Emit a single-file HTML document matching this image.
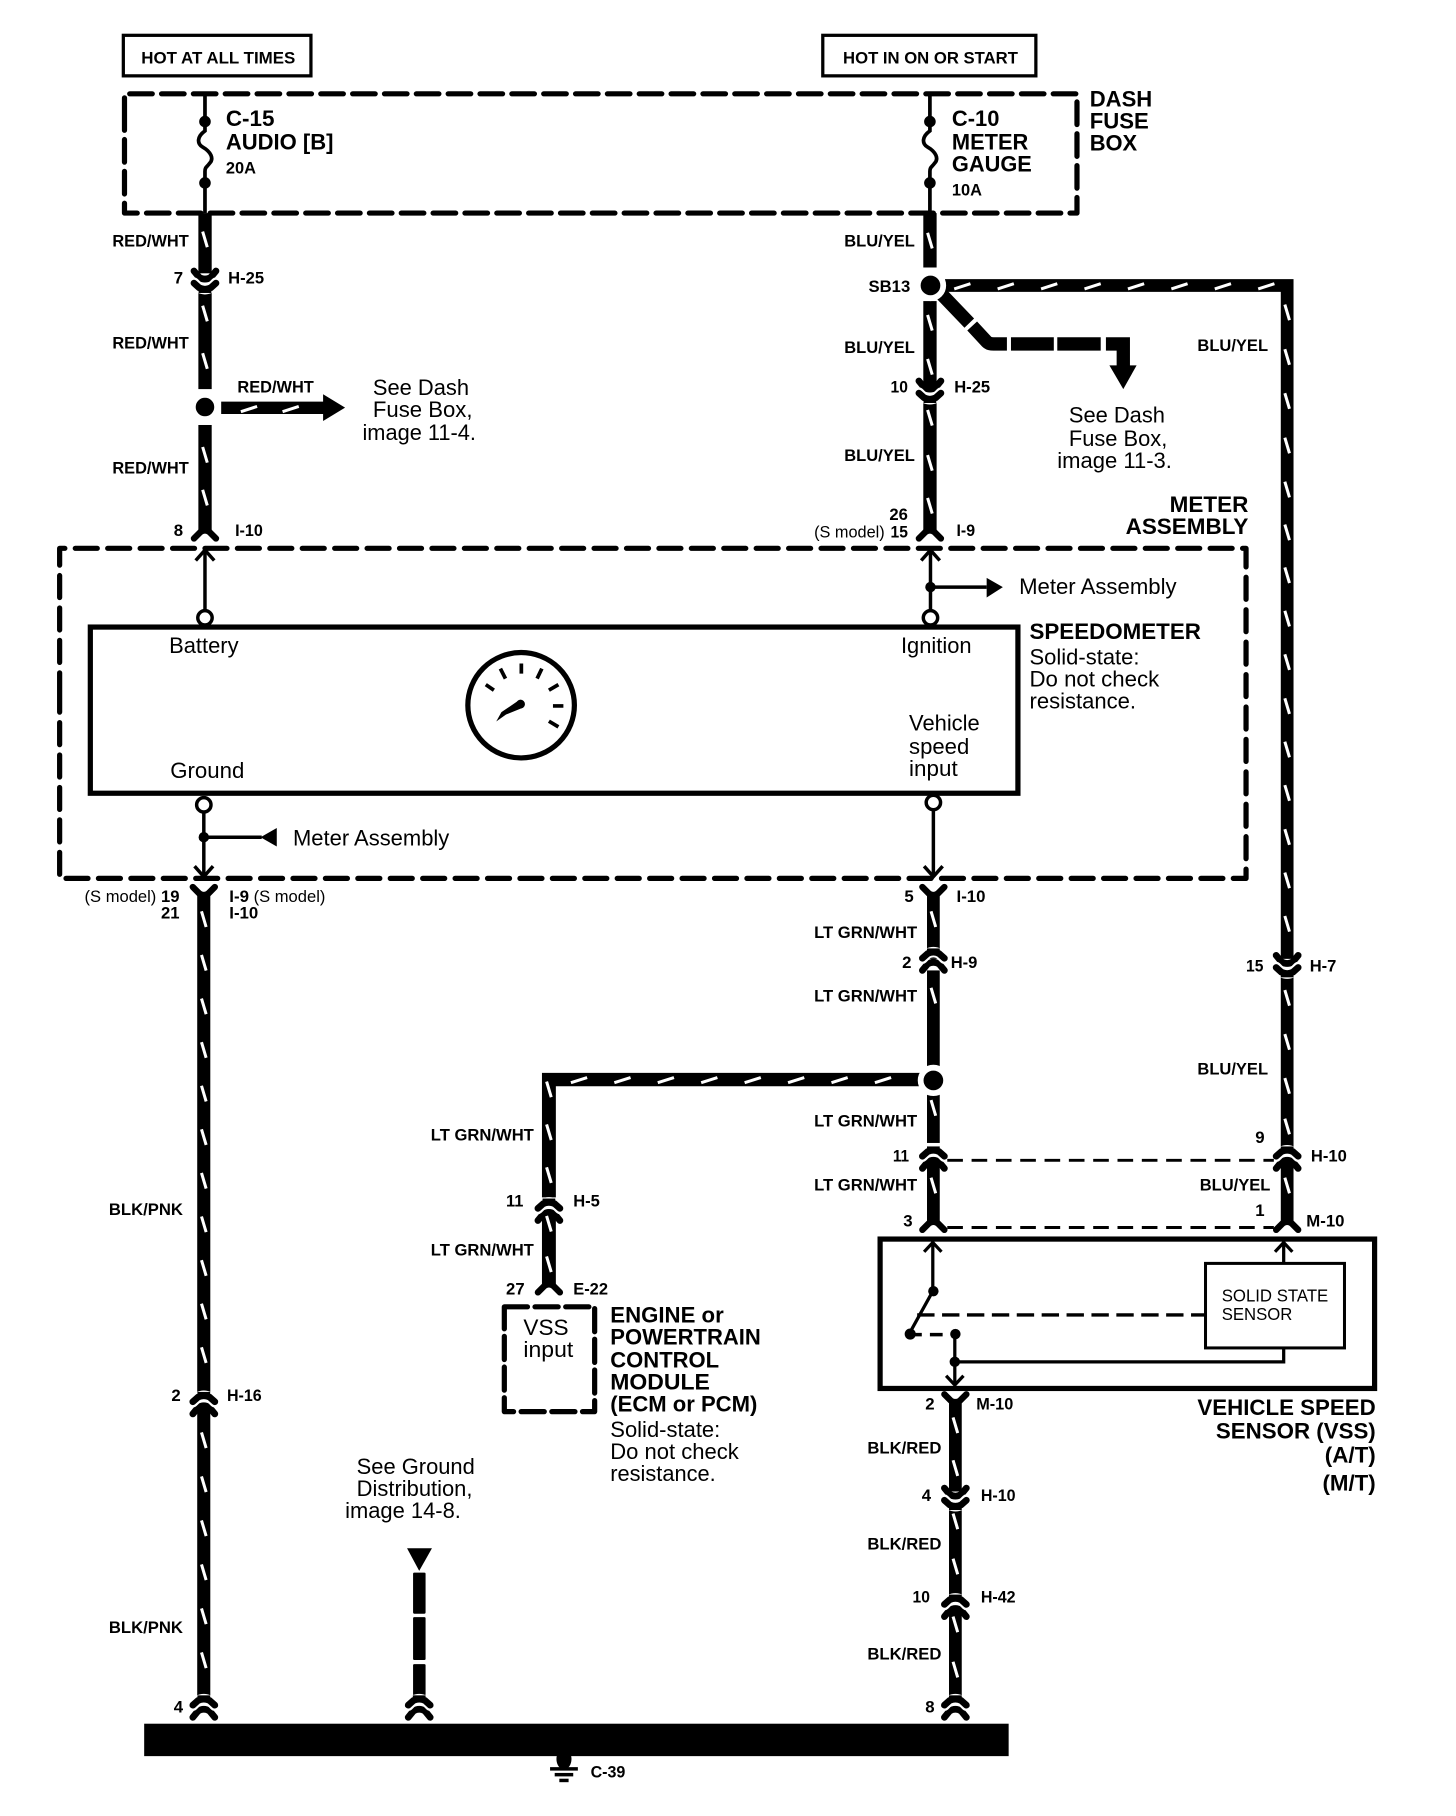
<!DOCTYPE html>
<html><head><meta charset="utf-8"><title>Speedometer circuit</title>
<style>
html,body{margin:0;padding:0;background:#fff}
svg{display:block}
text{fill:#000;font-family:"Liberation Sans",sans-serif}
.s{font-size:14.5px;font-weight:700}
.m{font-size:14.5px;font-weight:400}
.r{font-size:19px;font-weight:400}
.b{font-size:19px;font-weight:700}
.e{font-size:15px;font-weight:400}
</style></head><body>
<svg xmlns="http://www.w3.org/2000/svg" width="1456" height="1816" viewBox="0 0 1257.3 1568.2" preserveAspectRatio="none">
<defs>
<g id="vv" fill="none" stroke-linecap="round">
<path d="M-9.5,-7 L-5,-1.5 Q0,1.5 5,-1.5 L9.5,-7" stroke="#000" stroke-width="5.8"/>
<path d="M-9.5,3 L-5,7.5 Q0,10 5,7.5 L9.5,3" stroke="#fff" stroke-width="9"/>
<rect x="-5.5" y="6" width="11" height="6" fill="#000" stroke="none"/>
<path d="M-9.5,3.5 L-5,7.5 Q0,10 5,7.5 L9.5,3.5" stroke="#000" stroke-width="5.8"/>
</g>
<path id="fd" d="M-9.5,6 L-4,0.5 Q0,-2.5 4,0.5 L9.5,6" fill="none" stroke="#000" stroke-width="5.5" stroke-linecap="round"/>
<path id="fu" d="M-9.5,-6 L-4,-0.5 Q0,2.5 4,-0.5 L9.5,-6" fill="none" stroke="#000" stroke-width="5.5" stroke-linecap="round"/>
</defs>
<rect x="0" y="0" width="1257.3" height="1568.2" fill="#fff"/>

<!-- top boxes -->
<rect x="106.5" y="30.5" width="162" height="35" fill="none" stroke="#000" stroke-width="2.8"/>
<rect x="710.5" y="30.5" width="184" height="35" fill="none" stroke="#000" stroke-width="2.8"/>

<!-- dashed containers -->
<g fill="none" stroke="#000" stroke-width="4.5" stroke-linecap="round" stroke-linejoin="round">
<path d="M107.5,104 V81 H930 V184 H107.5 V104" stroke-dasharray="19.5 8"/>
<path d="M51.5,600 V473.5 H1076 V758.5 H51.5 V600" stroke-dasharray="19 9"/>
<path d="M435.5,1128.5 H513.5 V1219 H435.5 Z" stroke-dasharray="20 6.5"/>
</g>

<!-- fuses -->
<g fill="none" stroke="#000" stroke-width="3.2">
<path d="M177,81 V113 C170,118 170,124 175,127 C182,131 185,137 181,141 C179,144 177,144 177,148 V184"/>
<path d="M803,81 V113 C796,118 796,124 801,127 C808,131 811,137 807,141 C805,144 803,144 803,148 V184"/>
</g>
<g fill="#000">
<circle cx="177" cy="105" r="5"/><circle cx="177" cy="158" r="5"/>
<circle cx="803" cy="105" r="5"/><circle cx="803" cy="158" r="5"/>
</g>

<!-- thick wires -->
<g fill="#000">
<rect x="171.3" y="184" width="11.5" height="52"/>
<rect x="171.3" y="250" width="11.5" height="86"/>
<rect x="171.3" y="367" width="11.5" height="93"/>
<rect x="797.3" y="184" width="11.5" height="47"/>
<rect x="797.3" y="260" width="11.5" height="78"/>
<rect x="797.3" y="344" width="11.5" height="115"/>
<path d="M816,241 H1117 V828 H1106 V252 H816 Z"/>
<rect x="1106" y="840" width="11" height="150"/>
<rect x="1106" y="1000" width="11" height="57"/>
<path d="M191,346.8 H279 V340.5 L298,352 L279,363.5 V357.5 H191 Z"/>
<rect x="170.3" y="772" width="11.3" height="432"/>
<rect x="170.3" y="1214" width="11.3" height="250"/>
<rect x="800.5" y="772" width="11" height="56"/>
<rect x="800.5" y="838" width="11" height="85"/>
<rect x="800.5" y="945" width="11" height="42"/>
<rect x="800.5" y="1000" width="11" height="57"/>
<path d="M468,926.5 H795 V938 H480 V1034 H468 Z"/>
<rect x="468" y="1046" width="12" height="63"/>
<rect x="819.5" y="1208" width="11" height="80"/>
<rect x="819.5" y="1300" width="11" height="78"/>
<rect x="819.5" y="1390" width="11" height="75"/>
<path d="M351.5,1337 H373 L362,1356.5 Z"/>
<rect x="356.7" y="1358" width="10.8" height="35.5" rx="1"/>
<rect x="356.7" y="1396.5" width="10.8" height="37" rx="1"/>
<rect x="356.7" y="1437" width="10.8" height="27" rx="1"/>
<rect x="124.5" y="1488.5" width="746.5" height="28"/>
<ellipse cx="487" cy="1519" rx="6.5" ry="9"/>
<rect x="475" y="1526" width="24" height="3"/>
<rect x="479" y="1531" width="16" height="3"/>
<rect x="483" y="1536" width="8" height="3"/>
</g>

<!-- diagonal dashed branch -->
<g fill="none" stroke="#000" stroke-width="11.5">
<path d="M813,254 L837,279"/>
<path d="M839.5,281.5 L852,295 C854,297 856,297 858,297 H869.5"/>
<path d="M873,297 H910"/>
<path d="M913,297 H950.5"/>
<path d="M955,297 H970 V316"/>
</g>
<path d="M958,315.5 H981.5 L970,336 Z" fill="#000"/>

<!-- junction dots -->
<g fill="#000" stroke="#fff" stroke-width="5">
<circle cx="177" cy="351.5" r="10.5"/>
<circle cx="803.5" cy="246.5" r="11"/>
<circle cx="806" cy="933" r="11"/>
</g>

<!-- connectors -->
<use href="#vv" x="177" y="241"/>
<use href="#vv" x="803" y="336"/>
<use href="#vv" x="1111.5" y="832"/>
<use href="#vv" x="825" y="1292"/>
<g transform="translate(806,831) scale(1,-1)"><use href="#vv"/></g>
<g transform="translate(1111.5,1002) scale(1,-1)"><use href="#vv"/></g>
<g transform="translate(806,1002) scale(1,-1)"><use href="#vv"/></g>
<g transform="translate(474,1047) scale(1,-1)"><use href="#vv"/></g>
<g transform="translate(176,1214) scale(1,-1)"><use href="#vv"/></g>
<g transform="translate(825,1389) scale(1,-1)"><use href="#vv"/></g>
<g transform="translate(176,1476) scale(1,-1)"><use href="#vv"/></g>
<g transform="translate(362,1476) scale(1,-1)"><use href="#vv"/></g>
<g transform="translate(825,1476) scale(1,-1)"><use href="#vv"/></g>
<use href="#fd" x="177" y="459"/>
<use href="#fd" x="803" y="459"/>
<use href="#fd" x="806" y="1056"/>
<use href="#fd" x="1111.5" y="1056"/>
<use href="#fd" x="474" y="1110"/>
<use href="#fu" x="176" y="772"/>
<use href="#fu" x="806" y="772"/>
<use href="#fu" x="825" y="1210"/>

<!-- white ticks -->
<path fill="none" stroke="#fff" stroke-width="2.6" d="
M175,200l4,13.5 M175,264l4,13.5 M175,305l4,13.5 M175,386l4,13.5 M175,423l4,13.5
M801,201l4,13.5 M801,272l4,13.5 M801,310l4,13.5 M801,354l4,13.5 M801,393l4,13.5 M801,430l4,13.5
M1109.5,263l4,13.5 M1109.5,301.5l4,13.5 M1109.5,339.5l4,13.5 M1109.5,378l4,13.5 M1109.5,416l4,13.5 M1109.5,453l4,13.5 M1109.5,490l4,13.5 M1109.5,527.5l4,13.5 M1109.5,565l4,13.5 M1109.5,603l4,13.5 M1109.5,640.5l4,13.5 M1109.5,678l4,13.5 M1109.5,716l4,13.5 M1109.5,753.5l4,13.5 M1109.5,791l4,13.5 M1109.5,855l4,13.5 M1109.5,893l4,13.5 M1109.5,931l4,13.5 M1109.5,966l4,13.5 M1109.5,1017l4,13.5
M174,787l4,13.5 M174,824.6l4,13.5 M174,862.3l4,13.5 M174,900l4,13.5 M174,937.6l4,13.5 M174,975.2l4,13.5 M174,1012.9l4,13.5 M174,1050.5l4,13.5 M174,1088.2l4,13.5 M174,1125.8l4,13.5 M174,1163.5l4,13.5 M174,1237l4,13.5 M174,1275l4,13.5 M174,1313l4,13.5 M174,1351l4,13.5 M174,1389l4,13.5 M174,1427l4,13.5
M804,787l4,13.5 M804,853l4,13.5 M804,950l4,13.5 M804,1017l4,13.5
M472,934l4,13.5 M472,971l4,13.5 M472,1008l4,13.5 M472,1050l4,13.5 M472,1085l4,13.5
M823,1224l4,13.5 M823,1261l4,13.5 M823,1307l4,13.5 M823,1346l4,13.5 M823,1396l4,13.5 M823,1435l4,13.5
M208,355.5l14,-4.5 M244,355.5l14,-4.5
M824,249.5l14,-4.5 M861.5,249.5l14,-4.5 M899,249.5l14,-4.5 M936.5,249.5l14,-4.5 M974,249.5l14,-4.5 M1011.5,249.5l14,-4.5 M1049,249.5l14,-4.5 M1086.5,249.5l14,-4.5
M493,935l14,-4.5 M530.5,935l14,-4.5 M568,935l14,-4.5 M605.5,935l14,-4.5 M643,935l14,-4.5 M680.5,935l14,-4.5 M718,935l14,-4.5 M755.5,935l14,-4.5
"/>

<!-- speedometer -->
<rect x="78" y="541.5" width="801" height="143.5" fill="none" stroke="#000" stroke-width="4.5"/>
<g fill="none" stroke="#000">
<path stroke-width="3" d="M177,475 V527 M803.5,475 V527 M803.5,507 H852 M176,702 V757 M176,723 H226 M806,700 V757"/>
<path stroke-width="3" d="M169,484 L177,475 L185,484 M795.5,484 L803.5,475 L811.5,484 M168,748 L176,757 L184,748 M798,748 L806,757 L814,748"/>
<circle cx="177" cy="533.5" r="6.2" fill="#fff" stroke-width="3"/>
<circle cx="803.5" cy="533.5" r="6.2" fill="#fff" stroke-width="3"/>
<circle cx="176" cy="695" r="6.2" fill="#fff" stroke-width="3"/>
<circle cx="806" cy="693" r="6.2" fill="#fff" stroke-width="3"/>
<ellipse cx="450" cy="609" rx="46" ry="45.5" stroke-width="4.5" fill="#fff"/>
<g transform="translate(449.5,609)" stroke-width="3.2">
<path d="M0.7,-36 L0.7,-27.3 M-17.4,-31.6 L-13,-23 M-30,-17.8 L-23,-13 M18.4,-31.6 L14.3,-23 M32.7,-17.8 L24.5,-13 M28,0.6 L37,0.6 M24.5,13.8 L32.7,18.7"/>
</g>
</g>
<g fill="#000">
<path d="M852,499 L866,507 L852,516 Z"/>
<path d="M239,715 V731 L225,723 Z"/>
<circle cx="803.5" cy="507" r="4.5"/>
<circle cx="176" cy="723" r="4.5"/>
<path d="M447,605.5 L452,611 L437,617 L428.5,623 L433,615 Z"/>
<circle cx="449.5" cy="608" r="3.8"/>
</g>

<!-- VSS -->
<rect x="760" y="1070" width="427" height="129" fill="none" stroke="#000" stroke-width="4.5"/>
<rect x="1041" y="1091" width="120" height="73" fill="#fff" stroke="#000" stroke-width="2.6"/>
<g fill="none" stroke="#000" stroke-width="2.8">
<path d="M805.5,1072 V1115 L785,1152"/>
<path d="M798,1081 L805.5,1073 L813,1081"/>
<path d="M824.5,1152 V1196 M824.5,1176 H1108.5 V1164 M1108.5,1091 V1072"/>
<path d="M1101,1081 L1108.5,1073 L1116,1081"/>
<path d="M817,1188 L824.5,1196 L832,1188"/>
<path d="M792,1135.5 H1041" stroke-dasharray="15 6.5" stroke-width="3"/>
<path d="M785,1152.5 H821" stroke-dasharray="11 7" stroke-width="3"/>
<path d="M818,1002 H1100 M818,1060 H1100" stroke-dasharray="13.5 7.5" stroke-width="2.5"/>
</g>
<g fill="#000">
<circle cx="806" cy="1115" r="4.5"/><circle cx="786" cy="1152" r="4.8"/><circle cx="825" cy="1152" r="4.5"/><circle cx="824.5" cy="1176" r="4.5"/>
</g>

<!-- text -->
<g>
<text class="s" x="122" y="55" textLength="133" lengthAdjust="spacingAndGlyphs">HOT AT ALL TIMES</text>
<text class="s" x="728" y="55" textLength="151" lengthAdjust="spacingAndGlyphs">HOT IN ON OR START</text>
<text class="b" x="195" y="109" textLength="42" lengthAdjust="spacingAndGlyphs">C-15</text>
<text class="b" x="195" y="129" textLength="93" lengthAdjust="spacingAndGlyphs">AUDIO [B]</text>
<text class="s" x="195" y="150" textLength="26" lengthAdjust="spacingAndGlyphs">20A</text>
<text class="b" x="822" y="109" textLength="41" lengthAdjust="spacingAndGlyphs">C-10</text>
<text class="b" x="822" y="129" textLength="66" lengthAdjust="spacingAndGlyphs">METER</text>
<text class="b" x="822" y="148" textLength="69" lengthAdjust="spacingAndGlyphs">GAUGE</text>
<text class="s" x="822" y="169" textLength="26" lengthAdjust="spacingAndGlyphs">10A</text>
<text class="b" x="941" y="92" textLength="54" lengthAdjust="spacingAndGlyphs">DASH</text>
<text class="b" x="941" y="111" textLength="51" lengthAdjust="spacingAndGlyphs">FUSE</text>
<text class="b" x="941" y="130" textLength="41" lengthAdjust="spacingAndGlyphs">BOX</text>

<text class="s" x="97" y="213" textLength="66" lengthAdjust="spacingAndGlyphs">RED/WHT</text>
<text class="s" x="97" y="301" textLength="66" lengthAdjust="spacingAndGlyphs">RED/WHT</text>
<text class="s" x="97" y="409" textLength="66" lengthAdjust="spacingAndGlyphs">RED/WHT</text>
<text class="s" x="205" y="339" textLength="66" lengthAdjust="spacingAndGlyphs">RED/WHT</text>
<text class="s" x="729" y="213" textLength="61" lengthAdjust="spacingAndGlyphs">BLU/YEL</text>
<text class="s" x="729" y="305" textLength="61" lengthAdjust="spacingAndGlyphs">BLU/YEL</text>
<text class="s" x="729" y="398" textLength="61" lengthAdjust="spacingAndGlyphs">BLU/YEL</text>
<text class="s" x="1034" y="303" textLength="61" lengthAdjust="spacingAndGlyphs">BLU/YEL</text>
<text class="s" x="1034" y="928" textLength="61" lengthAdjust="spacingAndGlyphs">BLU/YEL</text>
<text class="s" x="1036" y="1028" textLength="61" lengthAdjust="spacingAndGlyphs">BLU/YEL</text>

<text class="s" x="150" y="245">7</text>
<text class="s" x="197" y="245" textLength="31" lengthAdjust="spacingAndGlyphs">H-25</text>
<text class="s" x="750" y="252" textLength="36" lengthAdjust="spacingAndGlyphs">SB13</text>
<text class="s" x="769" y="339" textLength="15" lengthAdjust="spacingAndGlyphs">10</text>
<text class="s" x="824" y="339" textLength="31" lengthAdjust="spacingAndGlyphs">H-25</text>
<text class="s" x="768" y="449" textLength="16" lengthAdjust="spacingAndGlyphs">26</text>
<text class="m" x="703" y="464" textLength="61" lengthAdjust="spacingAndGlyphs">(S model)</text>
<text class="s" x="769" y="464" textLength="15" lengthAdjust="spacingAndGlyphs">15</text>
<text class="s" x="826" y="463" textLength="16" lengthAdjust="spacingAndGlyphs">I-9</text>
<text class="s" x="150" y="463">8</text>
<text class="s" x="203" y="463" textLength="24" lengthAdjust="spacingAndGlyphs">I-10</text>

<text class="r" x="322" y="341" textLength="83" lengthAdjust="spacingAndGlyphs">See Dash</text>
<text class="r" x="322" y="360" textLength="86" lengthAdjust="spacingAndGlyphs">Fuse Box,</text>
<text class="r" x="313" y="380" textLength="98" lengthAdjust="spacingAndGlyphs">image 11-4.</text>
<text class="r" x="923" y="365" textLength="83" lengthAdjust="spacingAndGlyphs">See Dash</text>
<text class="r" x="923" y="385" textLength="85" lengthAdjust="spacingAndGlyphs">Fuse Box,</text>
<text class="r" x="913" y="404" textLength="99" lengthAdjust="spacingAndGlyphs">image 11-3.</text>

<text class="b" x="1010" y="442" textLength="68" lengthAdjust="spacingAndGlyphs">METER</text>
<text class="b" x="972" y="461" textLength="106" lengthAdjust="spacingAndGlyphs">ASSEMBLY</text>
<text class="r" x="880" y="513" textLength="136" lengthAdjust="spacingAndGlyphs">Meter Assembly</text>
<text class="r" x="253" y="730" textLength="135" lengthAdjust="spacingAndGlyphs">Meter Assembly</text>
<text class="r" x="146" y="564" textLength="60" lengthAdjust="spacingAndGlyphs">Battery</text>
<text class="r" x="778" y="564" textLength="61" lengthAdjust="spacingAndGlyphs">Ignition</text>
<text class="r" x="147" y="672" textLength="64" lengthAdjust="spacingAndGlyphs">Ground</text>
<text class="r" x="785" y="631" textLength="61" lengthAdjust="spacingAndGlyphs">Vehicle</text>
<text class="r" x="785" y="651" textLength="52" lengthAdjust="spacingAndGlyphs">speed</text>
<text class="r" x="785" y="670" textLength="42" lengthAdjust="spacingAndGlyphs">input</text>
<text class="b" x="889" y="552" textLength="148" lengthAdjust="spacingAndGlyphs">SPEEDOMETER</text>
<text class="r" x="889" y="574" textLength="95" lengthAdjust="spacingAndGlyphs">Solid-state:</text>
<text class="r" x="889" y="593" textLength="112" lengthAdjust="spacingAndGlyphs">Do not check</text>
<text class="r" x="889" y="612" textLength="92" lengthAdjust="spacingAndGlyphs">resistance.</text>

<text class="m" x="73" y="779" textLength="62" lengthAdjust="spacingAndGlyphs">(S model)</text>
<text class="s" x="139" y="779" textLength="16" lengthAdjust="spacingAndGlyphs">19</text>
<text class="s" x="139" y="793" textLength="16" lengthAdjust="spacingAndGlyphs">21</text>
<text class="s" x="198" y="779" textLength="17" lengthAdjust="spacingAndGlyphs">I-9</text>
<text class="m" x="219" y="779" textLength="62" lengthAdjust="spacingAndGlyphs">(S model)</text>
<text class="s" x="198" y="793" textLength="25" lengthAdjust="spacingAndGlyphs">I-10</text>
<text class="s" x="781" y="779">5</text>
<text class="s" x="826" y="779" textLength="25" lengthAdjust="spacingAndGlyphs">I-10</text>
<text class="s" x="703" y="810" textLength="89" lengthAdjust="spacingAndGlyphs">LT GRN/WHT</text>
<text class="s" x="779" y="836">2</text>
<text class="s" x="821" y="836" textLength="23" lengthAdjust="spacingAndGlyphs">H-9</text>
<text class="s" x="703" y="865" textLength="89" lengthAdjust="spacingAndGlyphs">LT GRN/WHT</text>
<text class="s" x="703" y="973" textLength="89" lengthAdjust="spacingAndGlyphs">LT GRN/WHT</text>
<text class="s" x="771" y="1003" textLength="14" lengthAdjust="spacingAndGlyphs">11</text>
<text class="s" x="703" y="1028" textLength="89" lengthAdjust="spacingAndGlyphs">LT GRN/WHT</text>
<text class="s" x="780" y="1059">3</text>
<text class="s" x="1076" y="839" textLength="15" lengthAdjust="spacingAndGlyphs">15</text>
<text class="s" x="1131" y="839" textLength="23" lengthAdjust="spacingAndGlyphs">H-7</text>
<text class="s" x="1084" y="987">9</text>
<text class="s" x="1132" y="1003" textLength="31" lengthAdjust="spacingAndGlyphs">H-10</text>
<text class="s" x="1084" y="1050">1</text>
<text class="s" x="1128" y="1059" textLength="33" lengthAdjust="spacingAndGlyphs">M-10</text>

<text class="s" x="372" y="985" textLength="89" lengthAdjust="spacingAndGlyphs">LT GRN/WHT</text>
<text class="s" x="372" y="1084" textLength="89" lengthAdjust="spacingAndGlyphs">LT GRN/WHT</text>
<text class="s" x="437" y="1042" textLength="15" lengthAdjust="spacingAndGlyphs">11</text>
<text class="s" x="495" y="1042" textLength="23" lengthAdjust="spacingAndGlyphs">H-5</text>
<text class="s" x="437" y="1118" textLength="16" lengthAdjust="spacingAndGlyphs">27</text>
<text class="s" x="495" y="1118" textLength="30" lengthAdjust="spacingAndGlyphs">E-22</text>

<text class="r" x="452" y="1153" textLength="39" lengthAdjust="spacingAndGlyphs">VSS</text>
<text class="r" x="452" y="1172" textLength="43" lengthAdjust="spacingAndGlyphs">input</text>
<text class="b" x="527" y="1142" textLength="98" lengthAdjust="spacingAndGlyphs">ENGINE or</text>
<text class="b" x="527" y="1161" textLength="130" lengthAdjust="spacingAndGlyphs">POWERTRAIN</text>
<text class="b" x="527" y="1181" textLength="94" lengthAdjust="spacingAndGlyphs">CONTROL</text>
<text class="b" x="527" y="1200" textLength="86" lengthAdjust="spacingAndGlyphs">MODULE</text>
<text class="b" x="527" y="1219" textLength="127" lengthAdjust="spacingAndGlyphs">(ECM or PCM)</text>
<text class="r" x="527" y="1241" textLength="95" lengthAdjust="spacingAndGlyphs">Solid-state:</text>
<text class="r" x="527" y="1260" textLength="111" lengthAdjust="spacingAndGlyphs">Do not check</text>
<text class="r" x="527" y="1279" textLength="91" lengthAdjust="spacingAndGlyphs">resistance.</text>

<text class="r" x="308" y="1273" textLength="102" lengthAdjust="spacingAndGlyphs">See Ground</text>
<text class="r" x="308" y="1292" textLength="100" lengthAdjust="spacingAndGlyphs">Distribution,</text>
<text class="r" x="298" y="1311" textLength="100" lengthAdjust="spacingAndGlyphs">image 14-8.</text>

<text class="e" x="1055" y="1124" textLength="92" lengthAdjust="spacingAndGlyphs">SOLID STATE</text>
<text class="e" x="1055" y="1140" textLength="61" lengthAdjust="spacingAndGlyphs">SENSOR</text>
<text class="b" x="1034" y="1222" textLength="154" lengthAdjust="spacingAndGlyphs">VEHICLE SPEED</text>
<text class="b" x="1050" y="1242" textLength="138" lengthAdjust="spacingAndGlyphs">SENSOR (VSS)</text>
<text class="b" x="1144" y="1263" textLength="44" lengthAdjust="spacingAndGlyphs">(A/T)</text>
<text class="b" x="1142" y="1287" textLength="46" lengthAdjust="spacingAndGlyphs">(M/T)</text>

<text class="s" x="94" y="1049" textLength="64" lengthAdjust="spacingAndGlyphs">BLK/PNK</text>
<text class="s" x="94" y="1410" textLength="64" lengthAdjust="spacingAndGlyphs">BLK/PNK</text>
<text class="s" x="148" y="1210">2</text>
<text class="s" x="196" y="1210" textLength="30" lengthAdjust="spacingAndGlyphs">H-16</text>
<text class="s" x="150" y="1479">4</text>
<text class="s" x="799" y="1217">2</text>
<text class="s" x="843" y="1217" textLength="32" lengthAdjust="spacingAndGlyphs">M-10</text>
<text class="s" x="749" y="1255" textLength="64" lengthAdjust="spacingAndGlyphs">BLK/RED</text>
<text class="s" x="749" y="1338" textLength="64" lengthAdjust="spacingAndGlyphs">BLK/RED</text>
<text class="s" x="749" y="1433" textLength="64" lengthAdjust="spacingAndGlyphs">BLK/RED</text>
<text class="s" x="796" y="1296">4</text>
<text class="s" x="847" y="1296" textLength="30" lengthAdjust="spacingAndGlyphs">H-10</text>
<text class="s" x="788" y="1384" textLength="15" lengthAdjust="spacingAndGlyphs">10</text>
<text class="s" x="847" y="1384" textLength="30" lengthAdjust="spacingAndGlyphs">H-42</text>
<text class="s" x="799" y="1479">8</text>
<text class="s" x="510" y="1535" textLength="30" lengthAdjust="spacingAndGlyphs">C-39</text>
</g>
</svg>
</body></html>
